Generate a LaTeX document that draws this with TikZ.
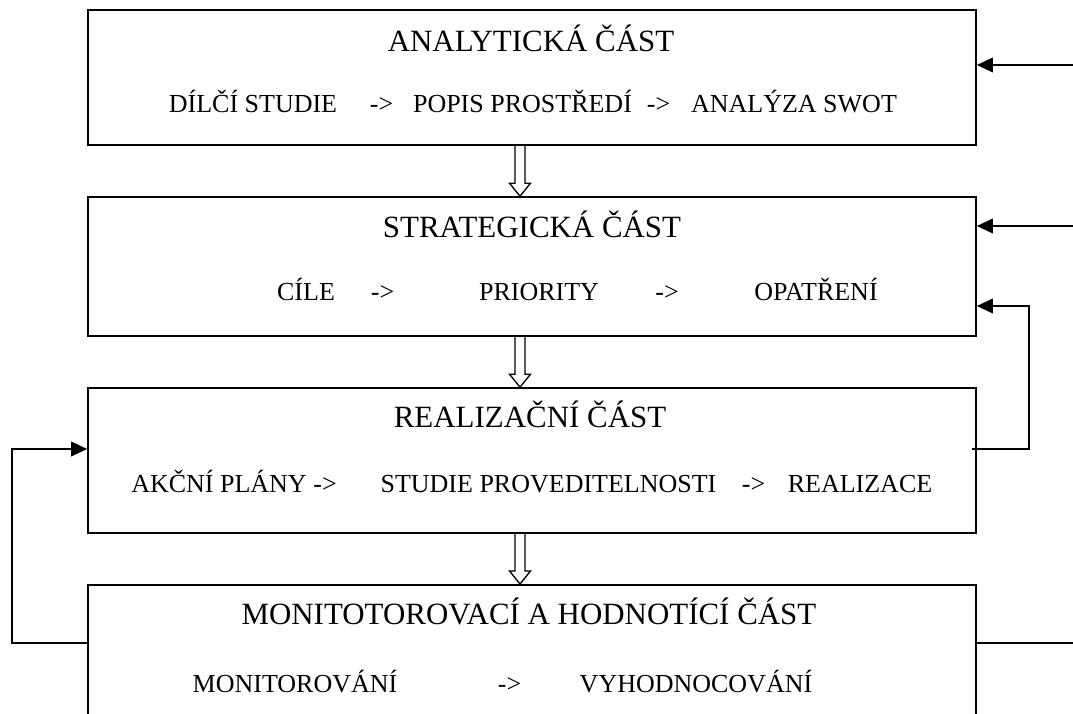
\documentclass[tikz,border=0pt]{standalone}
\usepackage{fontspec}
\setmainfont{Liberation Serif}
\usetikzlibrary{arrows.meta,calc,positioning}

\begin{document}
\begin{tikzpicture}[x=0.75pt,y=-0.75pt,
		part/.style={draw, line width=1.2pt, minimum width=666pt, inner sep=0pt}
		,heading/.style={anchor=base, inner sep=0pt, font=\fontsize{23.2}{27}\selectfont}
		,item/.style={anchor=base, inner sep=0pt, font=\fontsize{19.5}{23}\selectfont}
		,conn/.style={line width=1pt}
		,tip/.style={-{Triangle[length=12pt,width=11pt]}}
		,hollow/.style={line width=1pt}
		]
		\clip (0,0) rectangle (1073,713);
		
		\node[part, minimum height=101.25pt] (b1) at (532,77.5) {};
		\node[part, minimum height=104.25pt] (b2) at (532,266.5) {};
		\node[part, minimum height=108.75pt] (b3) at (532,460.5) {};
		\node[part, minimum height=112.5pt, anchor=north] (b4) at (532,584) {};
		
		\node[heading] (t1) at (531,52) {ANALYTICKÁ ČÁST};
		\node[heading] (t2) at (532,237) {STRATEGICKÁ ČÁST};
		\node[heading] (t3) at (530,427) {REALIZAČNÍ ČÁST};
		\node[heading] (t4) at (529,624) {MONITOTOROVACÍ A HODNOTÍCÍ ČÁST};
		
		\foreach[count=\i] \t/\x in {DÍLČÍ STUDIE/253,->/381.5,POPIS PROSTŘEDÍ/522.5,->/658.5,ANALÝZA SWOT/794}
			\node[item] (s1-\i) at (\x,113) {\t};
		\foreach[count=\i] \t/\x in {CÍLE/306,->/382.5,PRIORITY/539,->/667,OPATŘENÍ/816}
			\node[item] (s2-\i) at (\x,300) {\t};
		\foreach[count=\i] \t/\x in {AKČNÍ PLÁNY/219,->/325,STUDIE PROVEDITELNOSTI/548.5,->/753.5,REALIZACE/860}
			\node[item] (s3-\i) at (\x,492) {\t};
		\foreach[count=\i] \t/\x in {MONITOROVÁNÍ/295,->/509.5,VYHODNOCOVÁNÍ/696}
			\node[item] (s4-\i) at (\x,692) {\t};
		
		% hollow arrows between the parts
		\coordinate (ax) at (520,0);
		\foreach \a/\b in {b1/b2,b2/b3,b3/b4}
			\draw[hollow] ($(\a.south -| ax)+(-5,0)$) -- ($(\b.north -| ax)+(-5,-13)$) -- ++(-5.5,0)
				-- (\b.north -| ax) -- ($(\b.north -| ax)+(10.5,-13)$) -- ++(-5.5,0) -- ($(\a.south -| ax)+(5,0)$);
		
		% feedback lines
		\coordinate (r1) at (1073,65);
		\coordinate (r2) at (1073,226);
		\coordinate (s3) at (972,449);
		\coordinate (k3) at (1029,306);
		\coordinate (l4) at (12,643);
		\coordinate (k4) at (12,449);
		\coordinate (r4) at (1073,643);
		\draw[conn,tip] (r1) -- (r1 -| b1.east);
		\draw[conn,tip] (r2) -- (r2 -| b2.east);
		\draw[conn,tip] (s3) -| (k3) -- (k3 -| b2.east);
		\draw[conn,tip] (l4 -| b4.west) -| (k4) -- (k4 -| b3.west);
		\draw[conn] (r4 -| b4.east) -- (r4);
	\end{tikzpicture}
\end{document}
